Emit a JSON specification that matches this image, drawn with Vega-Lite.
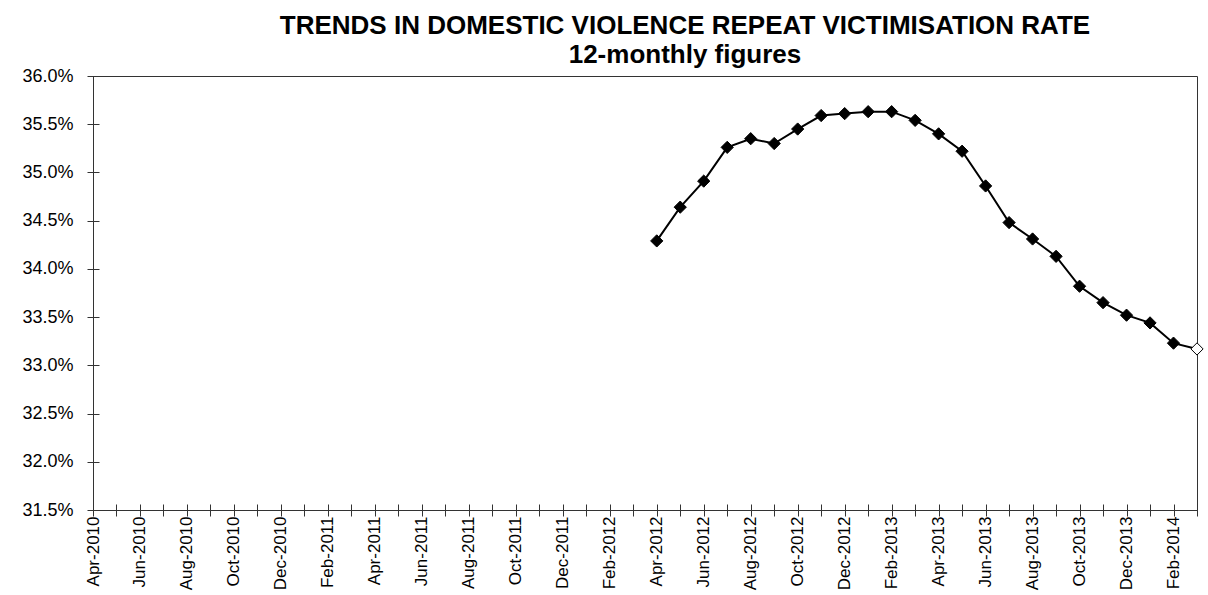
{
  "$schema": "https://vega.github.io/schema/vega-lite/v6.json",
  "width": 1104,
  "height": 434,
  "autosize": {"type": "none"},
  "padding": {"left": 93, "top": 76, "right": 11, "bottom": 85},
  "background": "white",
  "title": {
    "text": ["TRENDS IN DOMESTIC VIOLENCE REPEAT VICTIMISATION RATE", "12-monthly figures"],
    "font": "Liberation Sans",
    "fontSize": 26,
    "fontWeight": "bold",
    "color": "black",
    "lineHeight": 29,
    "anchor": "middle",
    "dx": 40,
    "offset": -1
  },
  "data": {
    "values": [
      {"month": "Apr-2012", "rate": 0.3429, "status": "Final"},
      {"month": "May-2012", "rate": 0.3464, "status": "Final"},
      {"month": "Jun-2012", "rate": 0.3491, "status": "Final"},
      {"month": "Jul-2012", "rate": 0.3526, "status": "Final"},
      {"month": "Aug-2012", "rate": 0.3535, "status": "Final"},
      {"month": "Sep-2012", "rate": 0.3530, "status": "Final"},
      {"month": "Oct-2012", "rate": 0.3545, "status": "Final"},
      {"month": "Nov-2012", "rate": 0.3559, "status": "Final"},
      {"month": "Dec-2012", "rate": 0.3561, "status": "Final"},
      {"month": "Jan-2013", "rate": 0.3563, "status": "Final"},
      {"month": "Feb-2013", "rate": 0.3563, "status": "Final"},
      {"month": "Mar-2013", "rate": 0.3554, "status": "Final"},
      {"month": "Apr-2013", "rate": 0.3540, "status": "Final"},
      {"month": "May-2013", "rate": 0.3522, "status": "Final"},
      {"month": "Jun-2013", "rate": 0.3486, "status": "Final"},
      {"month": "Jul-2013", "rate": 0.3448, "status": "Final"},
      {"month": "Aug-2013", "rate": 0.3431, "status": "Final"},
      {"month": "Sep-2013", "rate": 0.3413, "status": "Final"},
      {"month": "Oct-2013", "rate": 0.3382, "status": "Final"},
      {"month": "Nov-2013", "rate": 0.3365, "status": "Final"},
      {"month": "Dec-2013", "rate": 0.3352, "status": "Final"},
      {"month": "Jan-2014", "rate": 0.3344, "status": "Final"},
      {"month": "Feb-2014", "rate": 0.3323, "status": "Final"},
      {"month": "Mar-2014", "rate": 0.3317, "status": "Provisional"}
    ]
  },
  "encoding": {
    "x": {
      "field": "month",
      "type": "ordinal",
      "sort": null,
      "scale": {
        "type": "point",
        "padding": 0,
        "domain": ["Apr-2010","May-2010","Jun-2010","Jul-2010","Aug-2010","Sep-2010","Oct-2010","Nov-2010","Dec-2010","Jan-2011","Feb-2011","Mar-2011","Apr-2011","May-2011","Jun-2011","Jul-2011","Aug-2011","Sep-2011","Oct-2011","Nov-2011","Dec-2011","Jan-2012","Feb-2012","Mar-2012","Apr-2012","May-2012","Jun-2012","Jul-2012","Aug-2012","Sep-2012","Oct-2012","Nov-2012","Dec-2012","Jan-2013","Feb-2013","Mar-2013","Apr-2013","May-2013","Jun-2013","Jul-2013","Aug-2013","Sep-2013","Oct-2013","Nov-2013","Dec-2013","Jan-2014","Feb-2014","Mar-2014"]
      },
      "axis": {
        "title": null,
        "domain": false,
        "grid": false,
        "offset": -6,
        "tickSize": 12,
        "tickColor": "#333333",
        "tickWidth": 1,
        "labelAngle": 270,
        "labelAlign": "right",
        "labelBaseline": "middle",
        "labelPadding": 0,
        "labelFont": "Liberation Sans",
        "labelFontSize": 17,
        "labelColor": "black",
        "labelOverlap": false,
        "labelBound": false,
        "labelFlush": false,
        "labelExpr": "indexof(['Apr','Jun','Aug','Oct','Dec','Feb'], slice(datum.label, 0, 3)) >= 0 ? datum.label : ''"
      }
    },
    "y": {
      "field": "rate",
      "type": "quantitative",
      "scale": {"domain": [0.315, 0.36], "zero": false, "nice": false},
      "axis": {
        "title": null,
        "domain": false,
        "grid": false,
        "offset": -6,
        "tickSize": 12,
        "tickColor": "#333333",
        "tickWidth": 1,
        "values": [0.315, 0.32, 0.325, 0.33, 0.335, 0.34, 0.345, 0.35, 0.355, 0.36],
        "format": ".1%",
        "labelPadding": 14,
        "labelFont": "Liberation Sans",
        "labelFontSize": 18,
        "labelColor": "black",
        "labelOverlap": false,
        "labelBound": false,
        "labelFlush": false
      }
    }
  },
  "layer": [
    {
      "mark": {"type": "line", "color": "black", "strokeWidth": 2}
    },
    {
      "mark": {"type": "point", "shape": "diamond", "size": 150, "filled": true, "stroke": "black", "strokeWidth": 1, "opacity": 1},
      "encoding": {
        "fill": {
          "field": "status",
          "type": "nominal",
          "scale": {"domain": ["Final", "Provisional"], "range": ["black", "white"]},
          "legend": null
        }
      }
    }
  ],
  "config": {
    "view": {"stroke": "#333333", "strokeWidth": 1}
  }
}
